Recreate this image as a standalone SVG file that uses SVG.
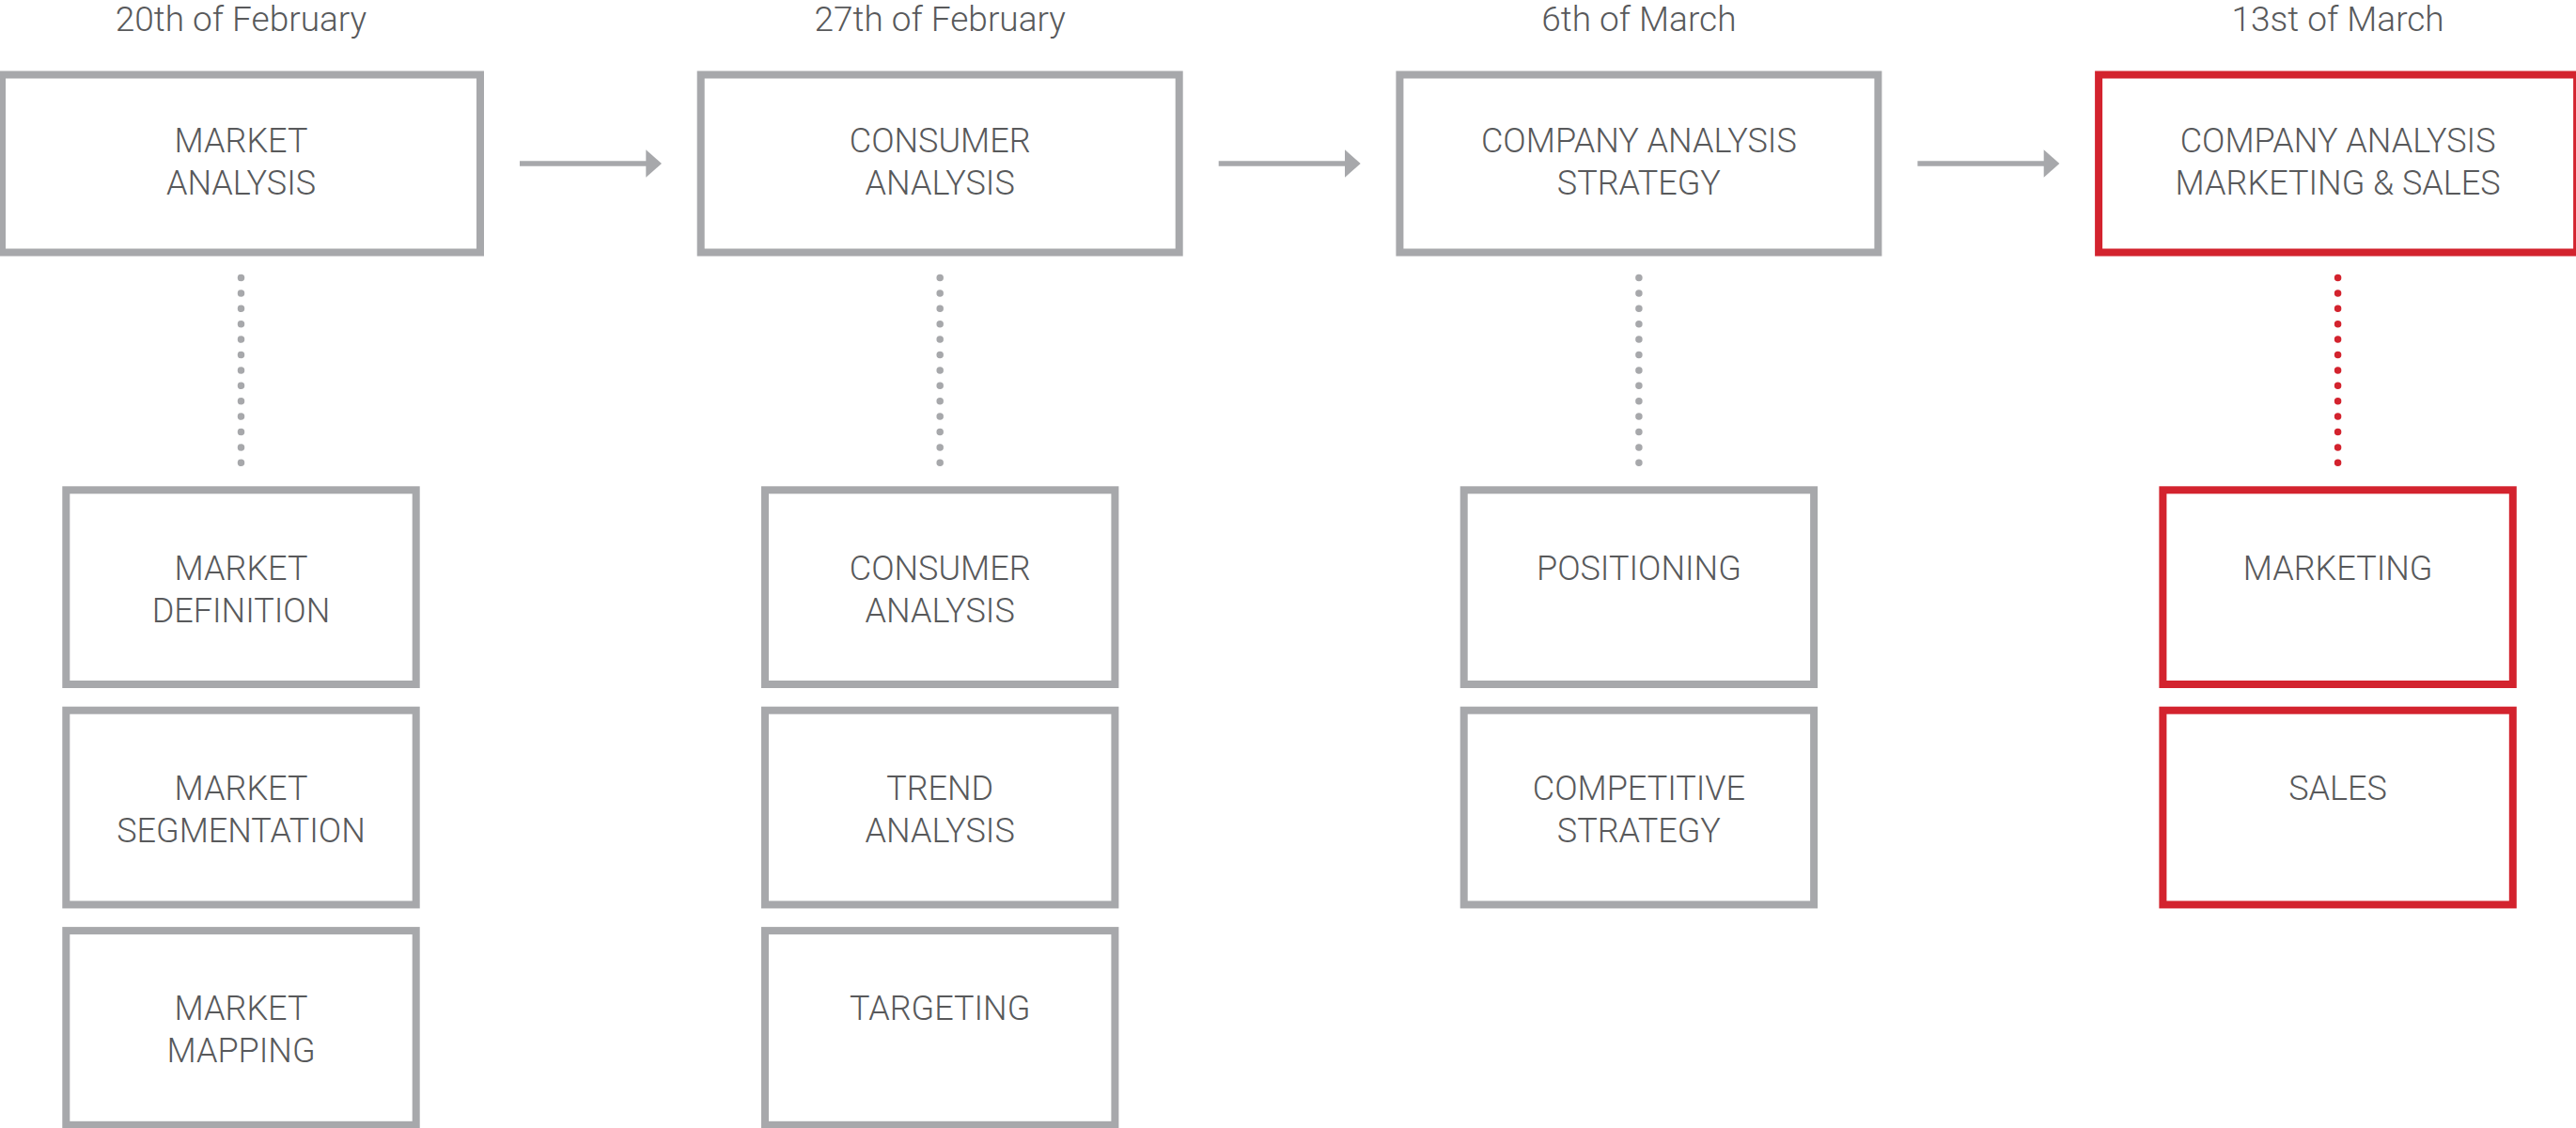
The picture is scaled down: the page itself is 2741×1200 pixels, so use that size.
<svg xmlns="http://www.w3.org/2000/svg" width="2741" height="1200" viewBox="0 0 2741 1200">
  <defs>
    <style>
      .box { fill: #ffffff; stroke: #a7a8ab; stroke-width: 8; }
      .box.hot { stroke: #d3232e; }
      .txt { font-family: Roboto, "Liberation Sans", sans-serif; font-weight: 300; font-size: 36px; fill: #58595b; text-anchor: middle; }
      .date { font-family: Roboto, "Liberation Sans", sans-serif; font-weight: 300; font-size: 37px; fill: #58595b; text-anchor: middle; }
      .link { stroke: #a7a8ab; stroke-width: 5.5; fill: none; }
      .head { fill: #a7a8ab; }
      .dots { stroke: #a7a8ab; stroke-width: 7.5; stroke-linecap: round; stroke-dasharray: 0 16.4; fill: none; }
      .dots.hot { stroke: #d3232e; }
    </style>
  </defs>

  <!-- date headings -->
  <g id="dates">
    <text class="date" x="256.5" y="33">20th of February</text>
    <text class="date" x="1000.2" y="33">27th of February</text>
    <text class="date" x="1743.9" y="33">6th of March</text>
    <text class="date" x="2487.6" y="33">13st of March</text>
  </g>

  <!-- connectors: timeline arrows and dotted drop lines -->
  <g id="connectors">
    <line class="link" x1="553" y1="174" x2="689" y2="174"/>
    <polygon class="head" points="687.3,159.3 704,174 687.3,188.7"/>
    <line class="link" x1="1296.7" y1="174" x2="1432.7" y2="174"/>
    <polygon class="head" points="1431,159.3 1447.7,174 1431,188.7"/>
    <line class="link" x1="2040.4" y1="174" x2="2176.4" y2="174"/>
    <polygon class="head" points="2174.7,159.3 2191.4,174 2174.7,188.7"/>

    <line class="dots" x1="256.5" y1="295.5" x2="256.5" y2="492.5"/>
    <line class="dots" x1="1000.2" y1="295.5" x2="1000.2" y2="492.5"/>
    <line class="dots" x1="1743.9" y1="295.5" x2="1743.9" y2="492.5"/>
    <line class="dots hot" x1="2487.6" y1="295.5" x2="2487.6" y2="492.5"/>
  </g>

  <!-- column 1 -->
  <g id="market-analysis">
    <rect class="box" x="2" y="79.5" width="509" height="189"/>
    <text class="txt" x="256.5" y="162.3">MARKET</text>
    <text class="txt" x="256.5" y="207.3">ANALYSIS</text>
  </g>
  <g id="market-definition">
    <rect class="box" x="70.3" y="521.3" width="372.4" height="206.7"/>
    <text class="txt" x="256.5" y="616.5">MARKET</text>
    <text class="txt" x="256.5" y="661.5">DEFINITION</text>
  </g>
  <g id="market-segmentation">
    <rect class="box" x="70.3" y="755.7" width="372.4" height="206.7"/>
    <text class="txt" x="256.5" y="850.9">MARKET</text>
    <text class="txt" x="256.5" y="895.9">SEGMENTATION</text>
  </g>
  <g id="market-mapping">
    <rect class="box" x="70.3" y="990.1" width="372.4" height="206.7"/>
    <text class="txt" x="256.5" y="1085.3">MARKET</text>
    <text class="txt" x="256.5" y="1130.3">MAPPING</text>
  </g>

  <!-- column 2 -->
  <g id="consumer-analysis">
    <rect class="box" x="745.7" y="79.5" width="509" height="189"/>
    <text class="txt" x="1000.2" y="162.3">CONSUMER</text>
    <text class="txt" x="1000.2" y="207.3">ANALYSIS</text>
  </g>
  <g id="consumer-analysis-sub">
    <rect class="box" x="814" y="521.3" width="372.4" height="206.7"/>
    <text class="txt" x="1000.2" y="616.5">CONSUMER</text>
    <text class="txt" x="1000.2" y="661.5">ANALYSIS</text>
  </g>
  <g id="trend-analysis">
    <rect class="box" x="814" y="755.7" width="372.4" height="206.7"/>
    <text class="txt" x="1000.2" y="850.9">TREND</text>
    <text class="txt" x="1000.2" y="895.9">ANALYSIS</text>
  </g>
  <g id="targeting">
    <rect class="box" x="814" y="990.1" width="372.4" height="206.7"/>
    <text class="txt" x="1000.2" y="1085.3">TARGETING</text>
  </g>

  <!-- column 3 -->
  <g id="company-strategy">
    <rect class="box" x="1489.4" y="79.5" width="509" height="189"/>
    <text class="txt" x="1743.9" y="162.3">COMPANY ANALYSIS</text>
    <text class="txt" x="1743.9" y="207.3">STRATEGY</text>
  </g>
  <g id="positioning">
    <rect class="box" x="1557.7" y="521.3" width="372.4" height="206.7"/>
    <text class="txt" x="1743.9" y="616.5">POSITIONING</text>
  </g>
  <g id="competitive-strategy">
    <rect class="box" x="1557.7" y="755.7" width="372.4" height="206.7"/>
    <text class="txt" x="1743.9" y="850.9">COMPETITIVE</text>
    <text class="txt" x="1743.9" y="895.9">STRATEGY</text>
  </g>

  <!-- column 4 (highlighted) -->
  <g id="company-marketing-sales">
    <rect class="box hot" x="2233.1" y="79.5" width="509" height="189"/>
    <text class="txt" x="2487.6" y="162.3">COMPANY ANALYSIS</text>
    <text class="txt" x="2487.6" y="207.3">MARKETING &amp; SALES</text>
  </g>
  <g id="marketing">
    <rect class="box hot" x="2301.4" y="521.3" width="372.4" height="206.7"/>
    <text class="txt" x="2487.6" y="616.5">MARKETING</text>
  </g>
  <g id="sales">
    <rect class="box hot" x="2301.4" y="755.7" width="372.4" height="206.7"/>
    <text class="txt" x="2487.6" y="850.9">SALES</text>
  </g>
</svg>
